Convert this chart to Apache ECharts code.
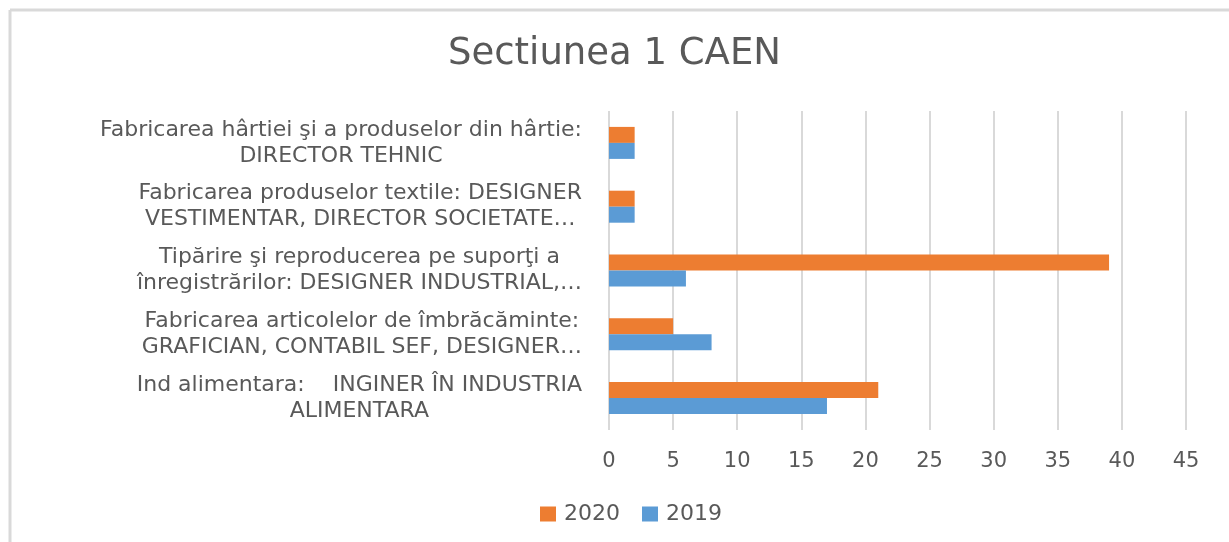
<!DOCTYPE html>
<html>
<head>
<meta charset="utf-8">
<script src="https://cdn.jsdelivr.net/npm/echarts@6/dist/echarts.min.js"></script>
<style>
  html, body { margin: 0; padding: 0; background: #fff; }
  #chart { width: 1229px; height: 542px; }
</style>
</head>
<body>
<div id="chart"></div>
<script>
// categories, bottom to top (as the category axis draws them)
const categories = [
  ['Ind alimentara:    INGINER ÎN INDUSTRIA', 'ALIMENTARA'],
  ['Fabricarea articolelor de îmbrăcăminte:', 'GRAFICIAN, CONTABIL SEF, DESIGNER…'],
  ['Tipărire şi reproducerea pe suporţi a', 'înregistrărilor: DESIGNER INDUSTRIAL,…'],
  ['Fabricarea produselor textile: DESIGNER', 'VESTIMENTAR, DIRECTOR SOCIETATE…'],
  ['Fabricarea hârtiei şi a produselor din hârtie:', 'DIRECTOR TEHNIC']
];
const values2020 = [21, 5, 39, 2, 2];
const values2019 = [17, 8, 6, 2, 2];
const xTicks = { min: 0, max: 45, interval: 5 };

const textColor = '#595959';
const fontFamily = '"DejaVu Sans", sans-serif';

const chart = echarts.init(document.getElementById('chart'));

const option = {
  animation: false,
  backgroundColor: '#fff',
  title: {
    text: 'Sectiunea 1 CAEN',
    left: 'center',
    top: 31,
    textStyle: { color: textColor, fontSize: 37, fontWeight: 'normal', fontFamily: fontFamily }
  },
  legend: {
    data: ['2020', '2019'],
    bottom: 12,
    left: 535,
    itemWidth: 16,
    itemHeight: 15,
    itemGap: 22,
    icon: 'rect',
    textStyle: { color: textColor, fontSize: 22, fontFamily: fontFamily, padding: [0, 0, 0, 3] }
  },
  grid: { left: 609, right: 43, top: 111, bottom: 112 },
  xAxis: {
    type: 'value',
    min: xTicks.min,
    max: xTicks.max,
    interval: xTicks.interval,
    axisLine: { show: false },
    axisTick: { show: false },
    axisLabel: { color: textColor, fontSize: 21, fontFamily: fontFamily, margin: 21 },
    splitLine: { lineStyle: { color: '#d9d9d9', width: 2 } }
  },
  yAxis: {
    type: 'category',
    data: categories.map(c => c.join('\n')),
    axisLine: { show: false },
    axisTick: { show: false },
    axisLabel: {
      align: 'right',
      margin: 27,
      formatter: function (v) {
        return v.split('\n').map(s => '{c|' + s + '}').join('\n');
      },
      rich: {
        c: { align: 'center', color: textColor, fontSize: 22, lineHeight: 26, fontFamily: fontFamily }
      }
    }
  },
  series: [
    {
      name: '2020',
      type: 'bar',
      data: values2020,
      barWidth: 16,
      barGap: '0%',
      itemStyle: { color: '#ed7d31' }
    },
    {
      name: '2019',
      type: 'bar',
      data: values2019,
      barWidth: 16,
      barGap: '0%',
      itemStyle: { color: '#5b9bd5' }
    }
  ],
  graphic: [
    { type: 'line', shape: { x1: 10, y1: 10, x2: 10, y2: 542 }, style: { stroke: '#d9d9d9', lineWidth: 3 } },
    { type: 'line', shape: { x1: 10, y1: 10, x2: 1229, y2: 10 }, style: { stroke: '#d9d9d9', lineWidth: 3 } }
  ]
};

chart.setOption(option);
</script>
</body>
</html>
